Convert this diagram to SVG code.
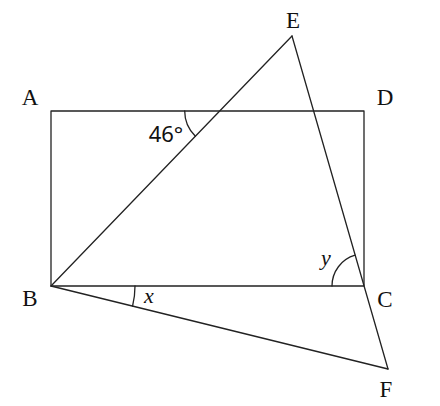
<svg xmlns="http://www.w3.org/2000/svg" width="440" height="406" viewBox="0 0 440 406">
<style>
.ln{fill:none;stroke:#222;stroke-width:1.3;stroke-linecap:round;stroke-linejoin:round}
.lb{font-family:"Liberation Serif","DejaVu Serif",serif;font-size:23px;fill:#111;text-anchor:middle}
.num{font-family:"Noto Sans","Liberation Sans",sans-serif;font-size:22px;fill:#111;text-anchor:middle}
.var{font-family:"Liberation Serif","DejaVu Serif",serif;font-style:italic;font-size:22px;fill:#111;text-anchor:middle}
</style>
<rect width="440" height="406" fill="#fff"/>
<g id="connectors">
<polygon class="ln" points="51,111 364,111 364,286 51,286"/>
<line class="ln" x1="51" y1="286" x2="292" y2="36"/>
<line class="ln" x1="292" y1="36" x2="388" y2="369"/>
<line class="ln" x1="51" y1="286" x2="388" y2="369"/>
</g>
<g id="angles">
<path class="ln" d="M184.7,111 A35,35 0 0 0 195.4,136.2"/>
<path class="ln" d="M135,286 A84,84 0 0 1 132.6,306"/>
<path class="ln" d="M332,286 A32,32 0 0 1 355.1,255.2"/>
</g>
<g id="A"><text class="lb" x="30" y="105">A</text></g>
<g id="D"><text class="lb" x="385" y="105">D</text></g>
<g id="E"><text class="lb" x="293" y="28">E</text></g>
<g id="B"><text class="lb" x="30" y="306">B</text></g>
<g id="C"><text class="lb" x="385" y="307">C</text></g>
<g id="F"><text class="lb" x="386" y="397">F</text></g>
<g id="label46"><text class="num" x="166" y="142">46°</text></g>
<g id="labelx"><text class="var" x="149" y="303">x</text></g>
<g id="labely"><text class="var" x="326" y="265">y</text></g>
</svg>
